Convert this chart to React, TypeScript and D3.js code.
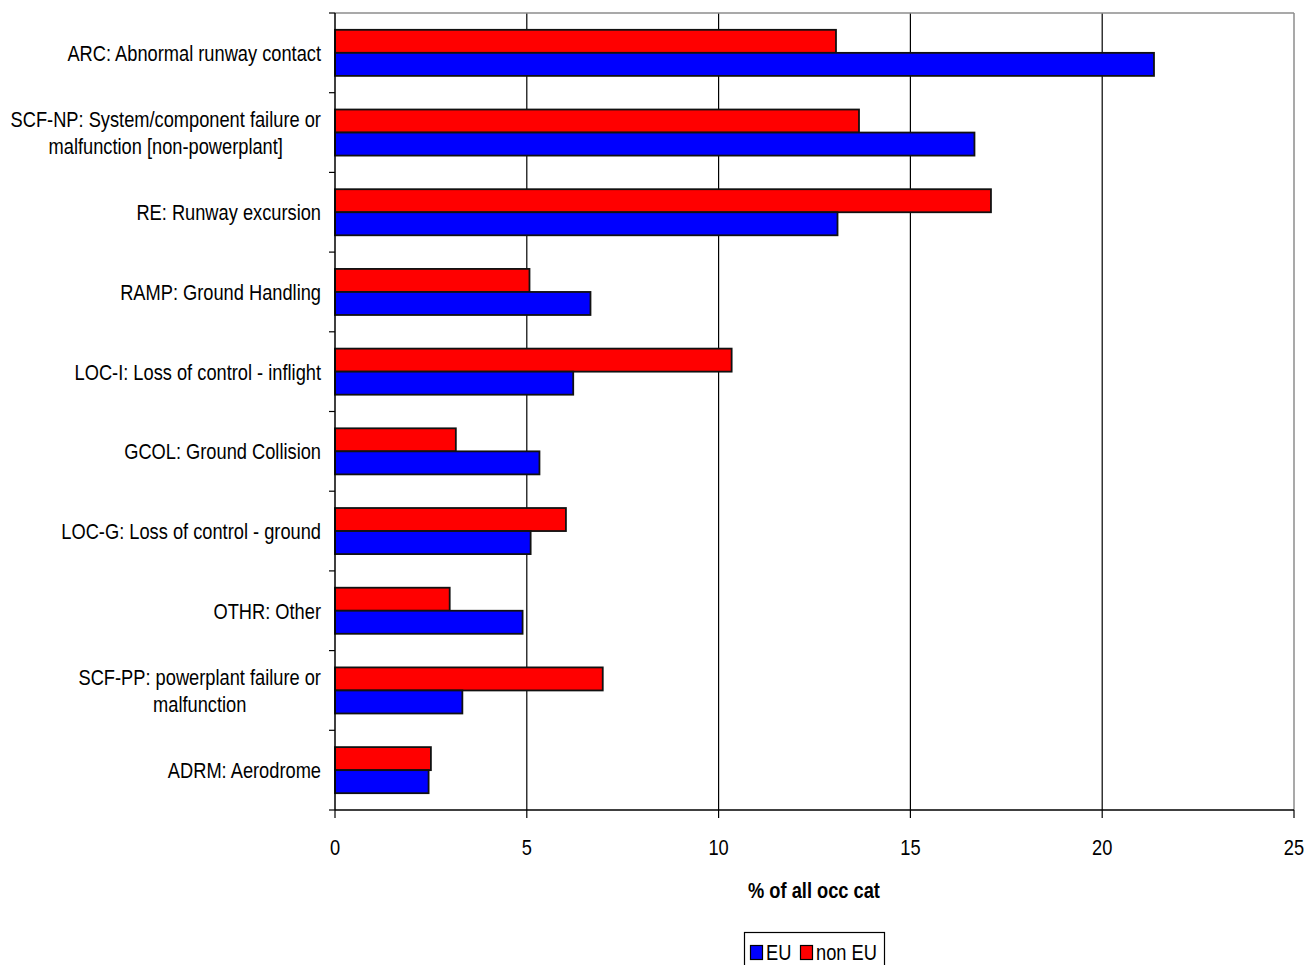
import React from "react";
import * as d3 from "d3";

const categories: string[][] = [
  ["ARC: Abnormal runway contact"],
  ["SCF-NP: System/component failure or", "malfunction [non-powerplant]"],
  ["RE: Runway excursion"],
  ["RAMP: Ground Handling"],
  ["LOC-I: Loss of control - inflight"],
  ["GCOL: Ground Collision"],
  ["LOC-G: Loss of control - ground"],
  ["OTHR: Other"],
  ["SCF-PP: powerplant failure or", "malfunction"],
  ["ADRM: Aerodrome"],
];
const euValues = [21.35, 16.67, 13.1, 6.66, 6.21, 5.33, 5.1, 4.89, 3.32, 2.44];
const nonEuValues = [13.06, 13.66, 17.1, 5.07, 10.34, 3.15, 6.02, 2.99, 6.98, 2.5];
const xTicks = [0, 5, 10, 15, 20, 25];
const seriesNames = ["non EU", "EU"];
const seriesColors: Record<string, string> = { "non EU": "#ff0000", EU: "#0000ff" };

const W = 1307;
const H = 965;
const left = 335;
const right = 1294;
const top = 13;
const bottom = 810;
const FONT = "'Liberation Sans', Arial, sans-serif";
const SX = 0.83;
const FS = 22;

let measureCtx: CanvasRenderingContext2D | null = null;
function textWidth(s: string): number {
  if (!measureCtx) {
    const c = document.createElement("canvas");
    measureCtx = c.getContext("2d");
  }
  if (!measureCtx) return s.length * FS * 0.5 * SX;
  measureCtx.font = `${FS}px 'Liberation Sans', Arial, sans-serif`;
  return measureCtx.measureText(s).width * SX;
}

function NText(props: {
  x: number;
  y: number;
  anchor?: "start" | "middle" | "end";
  bold?: boolean;
  children: React.ReactNode;
}) {
  return (
    <g transform={`translate(${props.x},${props.y}) scale(${SX},1)`}>
      <text
        x={0}
        y={0}
        textAnchor={props.anchor || "start"}
        fontSize={FS}
        fontWeight={props.bold ? "bold" : "normal"}
        fill="#000"
      >
        {props.children}
      </text>
    </g>
  );
}

export default function App() {
  const x = d3.scaleLinear().domain([0, 25]).range([left, right]);
  const idx = categories.map((_, i) => String(i));
  const y = d3.scaleBand().domain(idx).range([top, bottom]).padding(0);
  const inner = d3
    .scaleBand()
    .domain(seriesNames)
    .range([0, y.bandwidth()])
    .paddingInner(0)
    .paddingOuter(0.73);

  const series: Record<string, number[]> = { EU: euValues, "non EU": nonEuValues };
  const boundaries = d3.range(categories.length + 1).map((i) => top + i * y.step());
  const labelRight = left - 14;

  return (
    <svg
      width={W}
      height={H}
      style={{ position: "absolute", left: 0, top: 0, background: "#fff" }}
      fontFamily={FONT}
    >
      <rect x={0} y={0} width={W} height={H} fill="#fff" />
      {xTicks.slice(1, -1).map((t) => (
        <line key={"g" + t} x1={x(t)} x2={x(t)} y1={top} y2={bottom} stroke="#000" strokeWidth={1.2} />
      ))}
      <line x1={left} x2={right} y1={top} y2={top} stroke="#8c8c8c" strokeWidth={1.5} />
      <line x1={right} x2={right} y1={top} y2={bottom} stroke="#8c8c8c" strokeWidth={1.5} />
      {categories.map((_, i) =>
        seriesNames.map((s) => (
          <rect
            key={s + i}
            x={x(0)}
            y={(y(String(i)) as number) + (inner(s) as number)}
            width={x(series[s][i]) - x(0)}
            height={inner.bandwidth()}
            fill={seriesColors[s]}
            stroke="#111"
            strokeWidth={1.8}
          />
        ))
      )}
      <line x1={left} x2={left} y1={top} y2={bottom} stroke="#000" strokeWidth={1.5} />
      <line x1={left} x2={right} y1={bottom} y2={bottom} stroke="#000" strokeWidth={1.5} />
      {boundaries.map((b, i) => (
        <line key={"yt" + i} x1={left - 6} x2={left} y1={b} y2={b} stroke="#000" strokeWidth={1.2} />
      ))}
      {xTicks.map((t) => (
        <g key={"xt" + t}>
          <line x1={x(t)} x2={x(t)} y1={bottom} y2={bottom + 8} stroke="#000" strokeWidth={1.2} />
          <NText x={x(t)} y={855} anchor="middle">
            {t}
          </NText>
        </g>
      ))}
      {categories.map((lines, i) => {
        const cy = (y(String(i)) as number) + y.bandwidth() / 2;
        const lh = 27;
        const start = cy - ((lines.length - 1) * lh) / 2;
        const maxW = Math.max(...lines.map(textWidth));
        const cx = labelRight - maxW / 2;
        return (
          <g key={"c" + i}>
            {lines.map((ln, j) => (
              <NText
                key={j}
                x={lines.length > 1 ? cx : labelRight}
                y={start + j * lh + 8}
                anchor={lines.length > 1 ? "middle" : "end"}
              >
                {ln}
              </NText>
            ))}
          </g>
        );
      })}
      <NText x={814} y={898} anchor="middle" bold>
        % of all occ cat
      </NText>
      <rect x={744.5} y={932.5} width={140} height={45} fill="#fff" stroke="#000" strokeWidth={1.2} />
      <rect x={750.5} y={945.5} width={12} height={14} fill={seriesColors.EU} stroke="#000" strokeWidth={1.2} />
      <NText x={766} y={960}>EU</NText>
      <rect x={800.5} y={945.5} width={12} height={14} fill={seriesColors["non EU"]} stroke="#000" strokeWidth={1.2} />
      <NText x={816} y={960}>non EU</NText>
    </svg>
  );
}
